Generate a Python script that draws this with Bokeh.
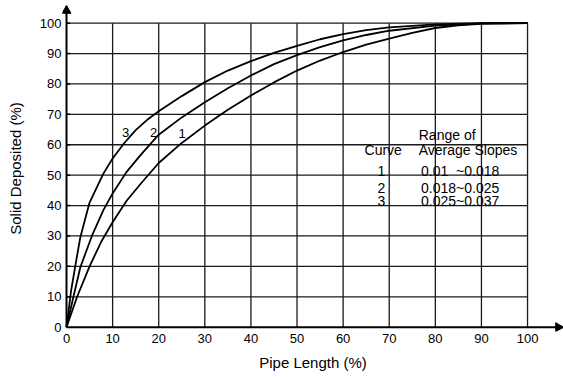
import math
from bokeh.plotting import figure
from bokeh.models import Range1d, FixedTicker
from bokeh.core.properties import value
from bokeh.embed import file_html
from bokeh.resources import INLINE

# ---- data ----
x_ticks = [0, 10, 20, 30, 40, 50, 60, 70, 80, 90, 100]
y_ticks = [0, 10, 20, 30, 40, 50, 60, 70, 80, 90, 100]

curve3_x = [0, 1, 2, 3, 5, 8, 10, 12.5, 15, 17.5, 20, 25, 30, 35, 40, 45, 50, 55, 60, 65, 70, 80, 90, 100]
curve3_y = [0, 12, 21, 29.6, 41, 50.5, 55.5, 60.5, 64.8, 68.2, 71, 76, 80.6, 84.4, 87.5, 90.2, 92.5, 94.7, 96.4, 97.7, 98.6, 99.6, 100, 100]

curve2_x = [0, 1.5, 3, 5.5, 8, 10, 13, 16, 20, 25, 30, 35, 40, 45, 50, 55, 60, 65, 70, 80, 90, 100]
curve2_y = [0, 10, 19.7, 30, 38.5, 44, 51, 56.5, 63.3, 69, 74, 78.6, 82.8, 86.5, 89.5, 92.1, 94.3, 96.1, 97.5, 99.2, 99.9, 100]

curve1_x = [0, 2.3, 5, 7.5, 10, 13, 16, 20, 25, 30, 35, 40, 45, 50, 55, 60, 65, 70, 75, 80, 85, 90, 100]
curve1_y = [0, 10, 20, 28, 34.5, 41.5, 47, 54, 60.6, 66.3, 71.5, 76.2, 80.5, 84.4, 87.7, 90.5, 92.9, 94.9, 96.8, 98.4, 99.3, 99.8, 100]

curve_labels = ["3", "2", "1"]
curve_label_x = [12.8, 18.9, 25.1]
curve_label_y = [63.9, 63.9, 63.6]

table_rows = ["1", "2", "3"]
table_ranges = ["0.01\u00a0\u00a0~0.018", "0.018~0.025", "0.025~0.037"]

X_START, X_END = -0.87, 107.8
Y_START, Y_END = -1.42, 105.8

p = figure(frame_width=501, frame_height=326,
           x_range=Range1d(X_START, X_END), y_range=Range1d(Y_START, Y_END),
           output_backend="svg", toolbar_location=None,
           min_border_left=62, min_border_right=0, min_border_top=5, min_border_bottom=46)
p.outline_line_color = None
p.xgrid.visible = False
p.ygrid.visible = False
p.background_fill_color = "white"
p.border_fill_color = "white"

FONT = "Liberation Sans"

# grid lines limited to 0..100
vx = x_ticks[1:]
p.segment(x0=vx, y0=[y_ticks[0]] * len(vx), x1=vx, y1=[y_ticks[-1]] * len(vx),
          line_color="#1a1a1a", line_width=1.3)
hy = y_ticks[1:]
p.segment(x0=[x_ticks[0]] * len(hy), y0=hy, x1=[x_ticks[-1]] * len(hy), y1=hy,
          line_color="#1a1a1a", line_width=1.3)

# small tick stubs on the y axis
p.segment(x0=[0] * len(hy), y0=hy, x1=[0.8] * len(hy), y1=hy, line_color="black", line_width=1.5)

# axis lines with arrow heads
p.segment(x0=[0, 0], y0=[0, 0], x1=[0, X_END], y1=[Y_END, 0], line_color="black", line_width=2)
ARW = 9
tip_off_px = ARW / 2 * math.sqrt(3) * 2 / 3
p.scatter(x=[0], y=[Y_END - tip_off_px / 3.04], marker="triangle", size=ARW,
          fill_color="black", line_color="black")
p.scatter(x=[X_END - tip_off_px / 4.61], y=[0], marker="triangle", size=ARW, angle=-math.pi / 2,
          fill_color="black", line_color="black")

# curves
for cx, cy in [(curve1_x, curve1_y), (curve2_x, curve2_y), (curve3_x, curve3_y)]:
    p.line(cx, cy, line_color="black", line_width=1.8, line_join="round")

# curve labels
p.text(x=curve_label_x, y=curve_label_y, text=curve_labels,
       text_font=value(FONT), text_font_size="13px", text_color="black",
       text_align="center", text_baseline="middle")

# table text
p.text(x=[76.4], y=[63.3], text=["Range of"], text_font=value(FONT), text_font_size="14px",
       text_align="left", text_baseline="middle", text_color="black")
p.text(x=[68.7], y=[58.4], text=["Curve"], text_font=value(FONT), text_font_size="14px",
       text_align="center", text_baseline="middle", text_color="black")
p.text(x=[76.4], y=[58.4], text=["Average Slopes"], text_font=value(FONT), text_font_size="14px",
       text_align="left", text_baseline="middle", text_color="black")
row_y = [51.3, 45.9, 41.5]
p.text(x=[68.3] * 3, y=row_y, text=table_rows, text_font=value(FONT), text_font_size="14px",
       text_align="center", text_baseline="middle", text_color="black")
p.text(x=[76.9] * 3, y=row_y, text=table_ranges, text_font=value(FONT), text_font_size="14px",
       text_align="left", text_baseline="middle", text_color="black")

# axes (labels only; lines drawn above)
p.xaxis.ticker = FixedTicker(ticks=x_ticks)
p.yaxis.ticker = FixedTicker(ticks=y_ticks)
for ax in (p.xaxis[0], p.yaxis[0]):
    ax.axis_line_color = None
    ax.major_tick_line_color = None
    ax.minor_tick_line_color = None
    ax.major_tick_out = 0
    ax.major_tick_in = 0
    ax.major_label_text_font = FONT
    ax.major_label_text_font_size = "13px"
    ax.major_label_text_color = "black"
    ax.axis_label_text_font = FONT
    ax.axis_label_text_font_size = "15px"
    ax.axis_label_text_font_style = "normal"
    ax.axis_label_text_color = "black"

p.xaxis.axis_label = "Pipe Length (%)"
p.yaxis.axis_label = "Solid Deposited (%)"
p.xaxis.major_label_standoff = 2
p.xaxis.axis_label_standoff = 8
p.yaxis.major_label_standoff = 1
p.yaxis.axis_label_standoff = 13

open("out.html", "w").write(file_html(p, INLINE))
